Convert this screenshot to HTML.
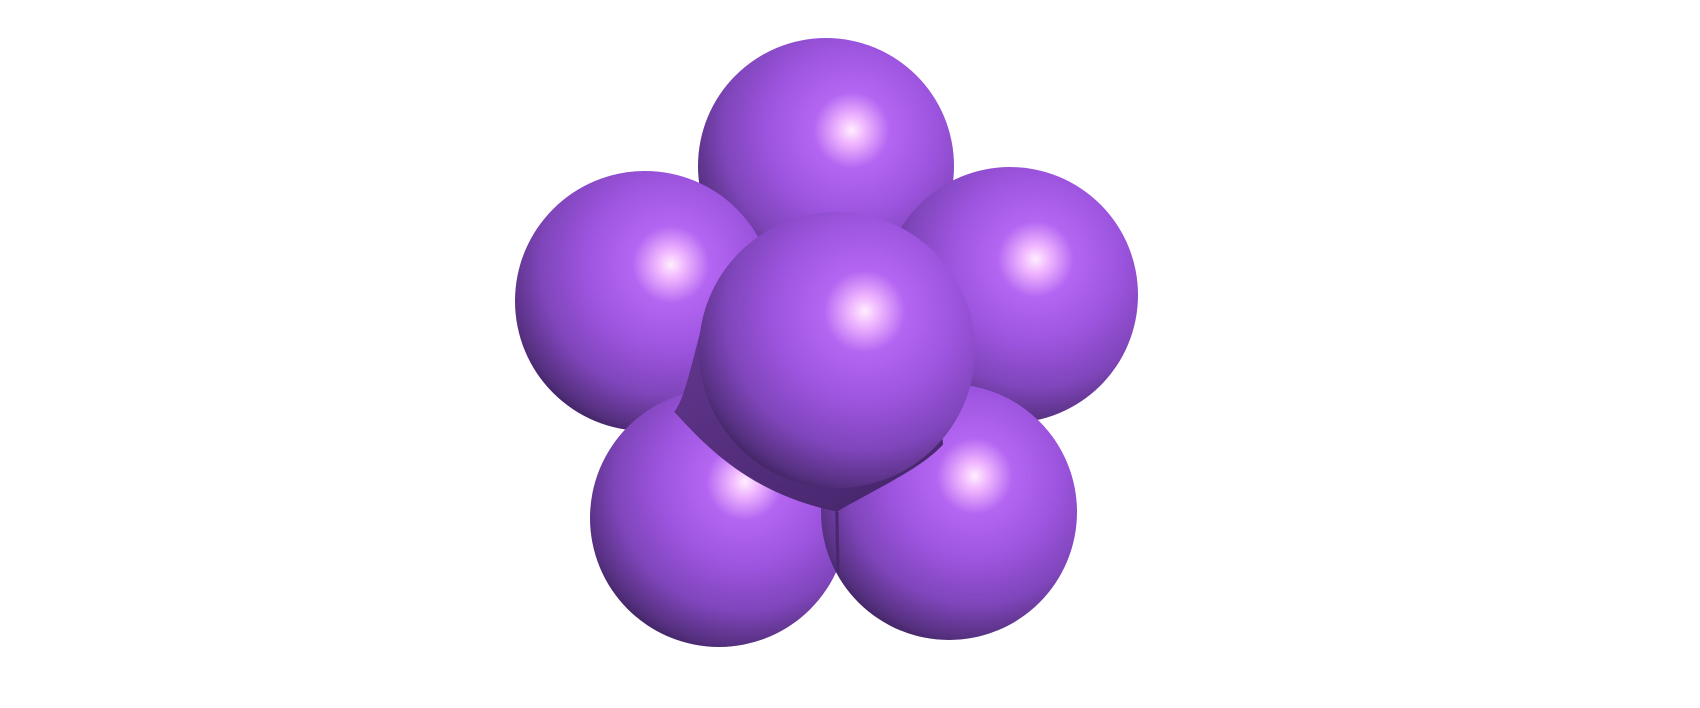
<!DOCTYPE html>
<html>
<head>
<meta charset="utf-8">
<style>
  html, body { margin: 0; padding: 0; background: #ffffff; }
  body { width: 1700px; height: 708px; overflow: hidden; font-family: "Liberation Sans", sans-serif; }
  svg { display: block; }
</style>
</head>
<body>
<svg id="scene" width="1700" height="708" viewBox="0 0 1700 708" xmlns="http://www.w3.org/2000/svg">
  <defs>
    <radialGradient id="atomGrad" cx="0.6" cy="0.36" r="0.74" fx="0.6" fy="0.36">
      <stop offset="0" stop-color="#ffeeff"/>
      <stop offset="0.07" stop-color="#f0b8ff"/>
      <stop offset="0.2" stop-color="#b466f2"/>
      <stop offset="0.45" stop-color="#9c54de"/>
      <stop offset="0.68" stop-color="#7f45ba"/>
      <stop offset="0.86" stop-color="#55307f"/>
      <stop offset="1" stop-color="#24133a"/>
    </radialGradient>
    <linearGradient id="shadowGrad" x1="0" y1="0" x2="0.6" y2="1">
      <stop offset="0" stop-color="#6a3b98"/>
      <stop offset="1" stop-color="#4a2870"/>
    </linearGradient>
  </defs>
  <g id="atoms-back"></g>
  <path transform="scale(1.084)" d="M692,226 C670,250 655,275 645,310 C636,345 630,370 622,380 C650,410 690,455 772,472 C810,450 850,432 870,410 L860,300 L760,230 Z" fill="url(#shadowGrad)"/>
  <path transform="scale(1.084)" d="M772,472 L773,528" stroke="#4a2870" stroke-width="3" fill="none"/>
  <g id="atoms-front"></g>
</svg>
<script>
  // sphere data: centre x, centre y, radius (draw order back to front)
  const atomNames = ['atom-top', 'atom-left', 'atom-right', 'atom-bottom-left', 'atom-bottom-right', 'atom-center'];
  const atomX = [826, 645, 1010, 719, 949, 837];
  const atomY = [166, 301, 295, 518, 512, 350];
  const atomR = [128, 130, 128, 129, 128, 138];
  const back = document.getElementById('atoms-back');
  const front = document.getElementById('atoms-front');
  const ns = 'http://www.w3.org/2000/svg';
  for (let i = 0; i < atomX.length; i++) {
    const c = document.createElementNS(ns, 'circle');
    c.setAttribute('cx', atomX[i]);
    c.setAttribute('cy', atomY[i]);
    c.setAttribute('r', atomR[i]);
    c.setAttribute('fill', 'url(#atomGrad)');
    
    
    (i === atomX.length - 1 ? front : back).appendChild(c);
  }
</script>
</body>
</html>
